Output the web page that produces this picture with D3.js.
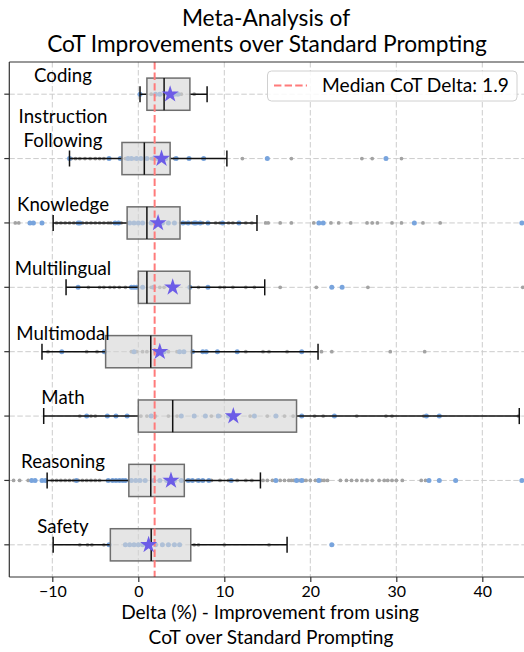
<!DOCTYPE html>
<html>
<head>
<meta charset="utf-8">
<script src="https://cdn.jsdelivr.net/npm/d3@7"></script>
<style>
  html, body { margin: 0; padding: 0; background: #fff; }
  svg { display: block; }
  text { font-family: Lato, "Open Sans", sans-serif; fill: #000; }
</style>
</head>
<body>
<svg id="chart" width="524" height="652"></svg>
<script>
// ---------------- DATA ----------------
const categories = ["Coding", "Instruction\nFollowing", "Knowledge", "Multilingual",
                    "Multimodal", "Math", "Reasoning", "Safety"];
const q1Values      = [1.0, -1.9, -1.3, 0.0, -3.8, 0.0, -1.1, -3.25];
const medianValues  = [3.0, 0.7, 1.0, 1.0, 1.45, 4.0, 1.45, 1.5];
const q3Values      = [6.0, 3.7, 4.85, 6.0, 6.2, 18.4, 5.35, 6.1];
const whiskerLow    = [0.2, -8.0, -9.9, -8.4, -11.2, -11.0, -10.6, -9.9];
const whiskerHigh   = [8.0, 10.3, 13.8, 14.7, 20.9, 44.3, 14.2, 17.3];
const meanValues    = [3.7, 2.7, 2.3, 4.0, 2.5, 11.05, 3.8, 1.2];
const medianDelta = 1.9;
const xTicks = [-10, 0, 10, 20, 30, 40];

const codingGray = [1.5, 3.0, 5.0, 6.5];
const codingBlue = [0.2, 2.0, 2.5, 3.5, 4.2, 4.6];
const instructionGray = [-7.8, -7.3, -6.8, -6.2, -5.6, -5.0, -4.5, -4.0, -1.5, -0.5, 1.5, 3.0, 4.2, 12.1, 17.8, 26.0, 27.2, 30.6];
const instructionBlue = [-8.0, -3.4, -2.1, -1.2, -0.8, -0.2, 0.3, 1.0, 1.8, 2.2, 3.2, 4.4, 5.9, 7.6, 15.0, 28.8];
const knowledgeGray = [-14.3, -13.9, -9.5, -9.0, -8.5, -8.0, -7.5, -6.5, -6.0, -5.5, -5.0, -4.5, -4.0, -3.5, -3.2, -2.0, 5.5, 6.2, 7.0, 7.5, 9.0, 9.5, 10.5, 11.0, 12.5, 13.2, 14.8, 15.1, 16.5, 17.8, 20.4, 22.4, 23.3, 24.7, 26.6, 27.2, 27.8, 29.5, 30.6, 33.1, 35.1];
const knowledgeBlue = [-12.6, -12.2, -11.2, -7.0, -6.8, -2.7, -2.3, -1.0, -0.5, 0.0, 0.5, 1.5, 2.0, 2.8, 3.5, 4.2, 5.2, 5.8, 6.5, 6.7, 7.2, 8.1, 9.8, 11.7, 21.0, 21.5, 32.1, 44.6];
const multilingualGray = [-5.8, -4.5, -4.0, -3.3, -2.8, -2.2, -1.5, 1.5, 2.5, 3.0, 7.0, 9.5, 10.0, 11.0, 12.5, 13.5, 16.5, 20.7, 26.7, 44.7];
const multilingualBlue = [-7.0, -0.8, -0.5, -0.2, 0.5, 1.8, 6.0, 8.1, 22.5, 23.7];
const multimodalGray = [-10.5, -6.0, -4.8, -0.8, -0.2, 0.5, 1.0, 3.5, 4.5, 12.5, 14.5, 15.2, 17.3, 21.3, 22.5, 29.3, 33.3];
const multimodalBlue = [-8.9, -3.95, -0.5, 2.0, 3.0, 4.8, 5.3, 6.3, 7.5, 7.9, 9.2, 11.5, 19.0];
const mathGray = [-6.8, -5.5, -5.0, 0.3, 1.0, 2.0, 3.5, 4.5, 6.5, 8.5, 9.5, 13.0, 15.0, 17.0, 18.0, 20.5, 21.5, 25.4, 28.8, 29.5, 33.2, 44.2];
const mathBlue = [-6.0, -3.6, -2.6, -1.3, 1.5, 5.0, 6.5, 7.8, 9.3, 10.5, 13.5, 16.0, 19.0, 22.8, 33.5, 35.0];
const reasoningGray = [-14.5, -13.8, -12.8, -10.0, -9.5, -9.0, -8.5, -8.0, -7.5, -7.0, -6.5, -6.0, -5.5, -5.0, -4.5, -3.0, -2.0, 6.0, 6.8, 8.5, 9.5, 10.5, 11.5, 12.5, 13.2, 14.5, 15.0, 15.6, 16.5, 17.0, 17.5, 17.8, 18.1, 18.7, 19.2, 19.5, 20.0, 20.6, 20.9, 21.3, 21.6, 22.0, 23.5, 24.2, 24.8, 25.4, 26.0, 26.6, 27.2, 28.0, 28.6, 29.0, 29.5, 30.0, 30.7, 32.9, 33.4];
const reasoningBlue = [-12.4, -12.0, -11.2, -10.8, -7.2, -3.5, -3.0, -2.6, -2.2, -1.8, -1.5, -0.8, -0.3, 0.2, 0.8, 1.8, 2.5, 3.3, 4.2, 5.0, 5.8, 6.3, 7.0, 7.5, 8.2, 10.8, 16.0, 18.4, 19.0, 21.0, 33.8, 35.0, 36.9, 44.6];
const safetyGray = [-6.8, -5.9, -5.4, -4.0, 6.5, 7.0, 10.0, 15.2];
const safetyBlue = [-3.4, -1.5, -1.0, -0.5, 0.0, 0.5, 1.0, 2.0, 2.8, 3.5, 4.2, 4.8, 22.5];

const grayPoints = [codingGray, instructionGray, knowledgeGray, multilingualGray, multimodalGray, mathGray, reasoningGray, safetyGray];
const bluePoints = [codingBlue, instructionBlue, knowledgeBlue, multilingualBlue, multimodalBlue, mathBlue, reasoningBlue, safetyBlue];

// ---------------- LAYOUT ----------------
const svg = d3.select("#chart");
const L = 9.3, R = 525.3, T = 62, B = 577;
const x = d3.scaleLinear().domain([-15, 45]).range([L, R]);
const y = d3.scalePoint().domain(d3.range(categories.length)).range([T, B]).padding(0.5);
const step = y.step();
const boxH = step * 0.5;
const capH = step * 0.25;

svg.append("defs").append("clipPath").attr("id", "clip")
  .append("rect").attr("x", L).attr("y", T).attr("width", R - L).attr("height", B - T);

const plot = svg.append("g").attr("clip-path", "url(#clip)");

// grid
plot.append("g").selectAll("line").data(xTicks).join("line")
  .attr("x1", d => x(d)).attr("x2", d => x(d)).attr("y1", T).attr("y2", B)
  .attr("stroke", "#cccccc").attr("stroke-width", 1).attr("stroke-dasharray", "5.5,2.5");
plot.append("g").selectAll("line").data(categories.map((c, i) => i)).join("line")
  .attr("x1", L).attr("x2", R).attr("y1", d => y(d)).attr("y2", d => y(d))
  .attr("stroke", "#cccccc").attr("stroke-width", 1).attr("stroke-dasharray", "5.5,2.5");

// points
const ptG = plot.append("g");
grayPoints.forEach((arr, i) => {
  ptG.selectAll(null).data(arr).join("circle")
    .attr("cx", d => x(d)).attr("cy", y(i)).attr("r", 1.9).attr("fill", "#a3a3a3");
});
bluePoints.forEach((arr, i) => {
  ptG.selectAll(null).data(arr).join("circle")
    .attr("cx", d => x(d)).attr("cy", y(i)).attr("r", 2.5).attr("fill", "#78a4dd");
});

// boxes
const rows = categories.map((c, i) => ({ i, q1: q1Values[i], med: medianValues[i], q3: q3Values[i],
  lo: whiskerLow[i], hi: whiskerHigh[i], mean: meanValues[i] }));
const bx = plot.append("g");
const rowG = bx.selectAll("g").data(rows).join("g");
// whiskers
rowG.append("line").attr("x1", d => x(d.lo)).attr("x2", d => x(d.q1))
  .attr("y1", d => y(d.i)).attr("y2", d => y(d.i)).attr("stroke", "#111").attr("stroke-width", 1.5);
rowG.append("line").attr("x1", d => x(d.q3)).attr("x2", d => x(d.hi))
  .attr("y1", d => y(d.i)).attr("y2", d => y(d.i)).attr("stroke", "#111").attr("stroke-width", 1.5);
rowG.append("line").attr("x1", d => x(d.lo)).attr("x2", d => x(d.lo))
  .attr("y1", d => y(d.i) - capH / 2).attr("y2", d => y(d.i) + capH / 2).attr("stroke", "#111").attr("stroke-width", 1.5);
rowG.append("line").attr("x1", d => x(d.hi)).attr("x2", d => x(d.hi))
  .attr("y1", d => y(d.i) - capH / 2).attr("y2", d => y(d.i) + capH / 2).attr("stroke", "#111").attr("stroke-width", 1.5);
// box
rowG.append("rect").attr("x", d => x(d.q1)).attr("width", d => x(d.q3) - x(d.q1))
  .attr("y", d => y(d.i) - boxH / 2).attr("height", boxH)
  .attr("fill", "#d3d3d3").attr("fill-opacity", 0.6)
  .attr("stroke", "#6e6e6e").attr("stroke-width", 1.5);
rowG.append("line").attr("x1", d => x(d.med)).attr("x2", d => x(d.med))
  .attr("y1", d => y(d.i) - boxH / 2).attr("y2", d => y(d.i) + boxH / 2)
  .attr("stroke", "#111").attr("stroke-width", 1.5);

// median delta line
plot.append("line").attr("x1", x(medianDelta)).attr("x2", x(medianDelta)).attr("y1", T).attr("y2", B)
  .attr("stroke", "#ff7b7b").attr("stroke-width", 2).attr("stroke-dasharray", "7.4,3.2");

// means (stars)
plot.append("g").selectAll("path").data(rows).join("path")
  .attr("d", d3.symbol(d3.symbolStar, 92))
  .attr("transform", d => `translate(${x(d.mean)},${y(d.i)})`)
  .attr("fill", "#6c5ce7");

// spines
svg.append("line").attr("x1", L).attr("x2", L).attr("y1", T).attr("y2", B).attr("stroke", "#333").attr("stroke-width", 1.2);
svg.append("line").attr("x1", L).attr("x2", 524).attr("y1", T).attr("y2", T).attr("stroke", "#333").attr("stroke-width", 1.2);
svg.append("line").attr("x1", L).attr("x2", 524).attr("y1", B).attr("y2", B).attr("stroke", "#333").attr("stroke-width", 1.2);

// y ticks
svg.append("g").selectAll("line").data(rows).join("line")
  .attr("x1", L - 5).attr("x2", L).attr("y1", d => y(d.i)).attr("y2", d => y(d.i))
  .attr("stroke", "#333").attr("stroke-width", 1.2);

// x axis
const xAxis = d3.axisBottom(x).tickValues(xTicks).tickSize(5).tickPadding(4)
  .tickFormat(d => d < 0 ? "\u2212" + Math.abs(d) : String(d));
const ax = svg.append("g").attr("transform", `translate(0,${B})`).call(xAxis);
ax.select(".domain").remove();
ax.selectAll(".tick line").attr("stroke", "#333").attr("stroke-width", 1.2);
ax.selectAll(".tick text").attr("font-size", 16).attr("fill", "#000")
  .style("font-family", "Lato, sans-serif");

function fit(sel, w) {
  const n = sel.node();
  const fs = parseFloat(sel.attr("font-size"));
  const cur = n.getComputedTextLength();
  if (cur > 0) sel.attr("font-size", fs * w / cur);
}

// category labels (size calibrated so "Knowledge" is ~92px wide)
const probe = svg.append("text").attr("font-size", 20).text("Knowledge");
const labelSize = 20 * 92 / probe.node().getComputedTextLength();
probe.remove();
rows.forEach(d => {
  const lines = categories[d.i].split("\n");
  lines.forEach((ln, k) => {
    svg.append("text").attr("x", 63)
      .attr("y", y(d.i) - 12 - (lines.length - 1 - k) * 24)
      .attr("text-anchor", "middle").attr("font-size", labelSize).text(ln);
  });
});

// title
const t1 = svg.append("text").attr("x", 266).attr("y", 26).attr("text-anchor", "middle")
  .attr("font-size", 22).text("Meta-Analysis of");
const t2 = svg.append("text").attr("x", 267).attr("y", 52).attr("text-anchor", "middle")
  .attr("font-size", 22).text("CoT Improvements over Standard Prompting");
fit(t2, 440);
t1.attr("font-size", t2.attr("font-size"));

// x-axis label
const a1 = svg.append("text").attr("x", 270).attr("y", 619).attr("text-anchor", "middle")
  .attr("font-size", 19).text("Delta (%) - Improvement from using");
fit(a1, 298);
const a2 = svg.append("text").attr("x", 271).attr("y", 644).attr("text-anchor", "middle")
  .attr("font-size", a1.attr("font-size")).text("CoT over Standard Prompting");

// legend
const lg = svg.append("g");
lg.append("rect").attr("x", 267.5).attr("y", 71).attr("width", 249.5).attr("height", 30).attr("rx", 4)
  .attr("fill", "#fff").attr("fill-opacity", 0.85).attr("stroke", "#d0d0d0").attr("stroke-width", 1);
lg.append("line").attr("x1", 274).attr("x2", 307).attr("y1", 85.5).attr("y2", 85.5)
  .attr("stroke", "#ff7b7b").attr("stroke-width", 2).attr("stroke-dasharray", "7.4,3.2");
const lt = lg.append("text").attr("x", 322).attr("y", 91.5).attr("font-size", 18)
  .text("Median CoT Delta: " + medianDelta);
fit(lt, 187);
</script>
</body>
</html>
